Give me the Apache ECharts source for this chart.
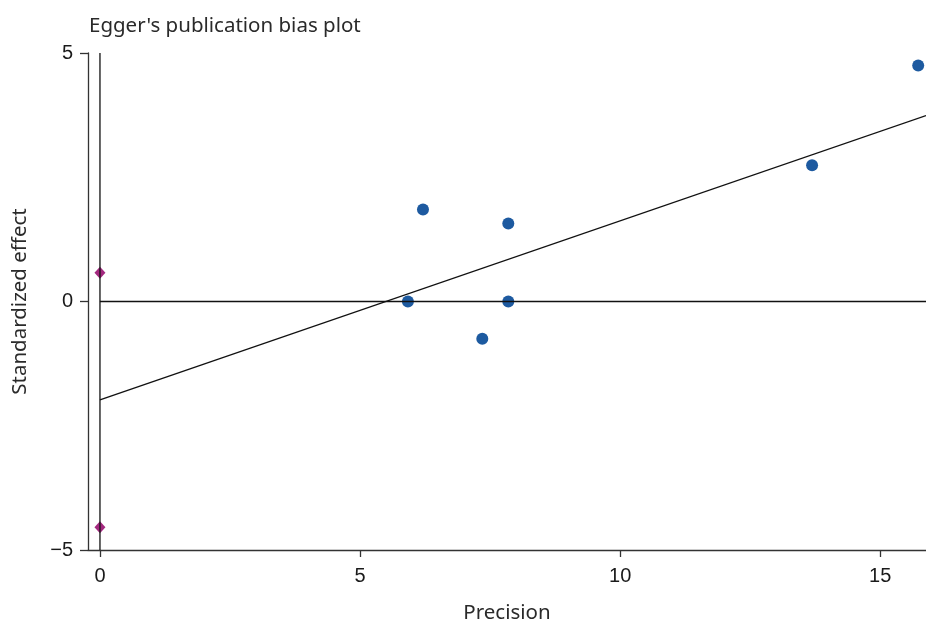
<!DOCTYPE html>
<html>
<head>
<meta charset="utf-8">
<script src="https://cdn.jsdelivr.net/npm/echarts@6/dist/echarts.min.js"></script>
<style>html,body{margin:0;padding:0;background:#fff}#c{width:926px;height:622px}</style>
</head>
<body>
<div id="c"></div>
<script>
// Study points (precision, standardized effect)
const precision = [5.92, 6.21, 7.35, 7.85, 7.85, 13.69, 15.73];
const stdEffect = [0.0, 1.85, -0.75, 1.57, 0.0, 2.74, 4.75];
// Diamonds on the y-axis (x = 0)
const diamondX = [0, 0];
const diamondY = [0.58, -4.54];
// Egger regression line endpoints
const regX = [0, 15.88];
const regY = [-1.98, 3.74];
// Reference lines
const vRefX = [0, 0];
const vRefY = [-5, 5];
const hRefX = [0, 15.88];
const hRefY = [0, 0];
// Axis ticks
const xTicks = [0, 5, 10, 15];
const yTicks = [-5, 0, 5];
const xMin = -0.23, xMax = 15.88;

const zip = (a, b) => a.map((v, i) => [v, b[i]]);
const chart = echarts.init(document.getElementById('c'));
const tickFont = {fontFamily: "'Liberation Sans', Arial, sans-serif", fontSize: 20, color: '#1a1a1a'};
const nameFont = {fontFamily: "'Noto Sans', sans-serif", fontSize: 20.5, color: '#2a2a2a'};
const lineStyle = {color: '#111', width: 1.3};
chart.setOption({
  animation: false,
  title: {
    text: "Egger's publication bias plot",
    left: 84, top: 11,
    textStyle: {...nameFont, fontWeight: 'normal'}
  },
  grid: {left: 88, right: 0, top: 53, bottom: 72, containLabel: false, outerBoundsMode: 'none'},
  xAxis: {
    type: 'value', min: xMin, max: xMax,
    name: 'Precision', nameLocation: 'middle', nameGap: 53,
    nameTextStyle: nameFont,
    axisLine: {show: true, onZero: false, lineStyle: {color: '#333', width: 1.3}},
    axisTick: {show: true, customValues: xTicks, length: 7, lineStyle: {color: '#333', width: 1.3}},
    axisLabel: {customValues: xTicks, margin: 16, ...tickFont},
    splitLine: {show: false}
  },
  yAxis: {
    type: 'value', min: -5, max: 5,
    name: 'Standardized effect', nameLocation: 'middle', nameGap: 57,
    nameTextStyle: nameFont,
    axisLine: {show: true, onZero: false, lineStyle: {color: '#333', width: 1.3}},
    axisTick: {show: true, customValues: yTicks, length: 8, lineStyle: {color: '#333', width: 1.3}},
    axisLabel: {customValues: yTicks, margin: 15, ...tickFont,
      formatter: v => v < 0 ? '\u2212' + Math.abs(v) : String(v)},
    splitLine: {show: false}
  },
  series: [
    {type: 'line', data: zip(vRefX, vRefY), symbol: 'none', lineStyle, silent: true},
    {type: 'line', data: zip(hRefX, hRefY), symbol: 'none', lineStyle, silent: true},
    {type: 'line', data: zip(regX, regY), symbol: 'none', lineStyle, silent: true},
    {type: 'scatter', data: zip(diamondX, diamondY), symbol: 'diamond', symbolSize: [11, 12],
      itemStyle: {color: '#a3287f', opacity: 1}},
    {type: 'scatter', data: zip(precision, stdEffect), symbol: 'circle', symbolSize: 12,
      itemStyle: {color: '#1d5aa0', opacity: 1}}
  ]
});
</script>
</body>
</html>
